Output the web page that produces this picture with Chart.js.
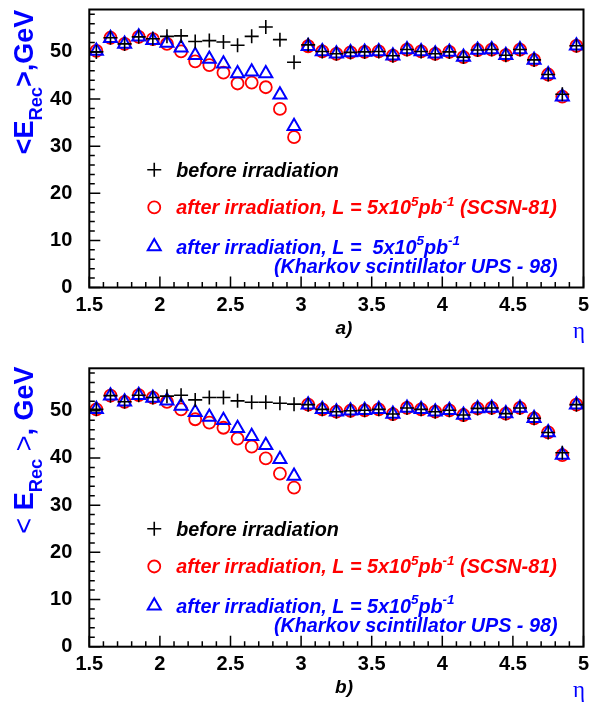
<!DOCTYPE html>
<html lang="en">
<head>
<meta charset="UTF-8">
<title>Mean reconstructed energy vs eta</title>
<script src="https://cdn.jsdelivr.net/npm/chart.js@4.4.0/dist/chart.umd.min.js"></script>
<style>
  body { margin: 0; background: #fff; }
  canvas { position: absolute; left: 0; }
  #chartA { top: 0; }
  #chartB { top: 350px; }
</style>
</head>
<body>
<canvas id="chartA" width="593" height="350"></canvas>
<canvas id="chartB" width="593" height="357"></canvas>
<script>
// eta bin centres
const eta = [1.55, 1.65, 1.75, 1.85, 1.95, 2.05, 2.15, 2.25, 2.35, 2.45, 2.55, 2.65,
             2.75, 2.85, 2.95, 3.05, 3.15, 3.25, 3.35, 3.45, 3.55, 3.65, 3.75, 3.85,
             3.95, 4.05, 4.15, 4.25, 4.35, 4.45, 4.55, 4.65, 4.75, 4.85, 4.95];

// panel a)
const beforeA = [50.0, 53.0, 51.7, 53.2, 52.8, 53.3, 53.4, 52.2, 52.4, 52.1, 51.4, 53.3,
                 55.3, 52.6, 47.8, 51.5, 50.1, 49.6, 49.9, 50.0, 50.1, 49.2, 50.5, 50.1,
                 49.6, 50.0, 48.9, 50.4, 50.5, 49.3, 50.5, 48.3, 45.2, 41.0, 51.3];
const scsnA   = [50.2, 53.0, 51.7, 53.2, 52.7, 51.7, 50.1, 48.0, 47.2, 45.6, 43.3, 43.5,
                 42.5, 37.9, 31.9, 51.2, 50.1, 49.6, 49.9, 50.0, 50.1, 49.2, 50.5, 50.1,
                 49.6, 50.0, 48.9, 50.4, 50.5, 49.3, 50.5, 48.3, 45.2, 40.5, 51.3];
const upsA    = [50.2, 52.9, 51.7, 53.2, 52.5, 51.9, 50.9, 49.3, 48.5, 47.5, 45.4, 45.8,
                 45.4, 40.9, 34.2, 51.2, 50.1, 49.6, 49.9, 50.0, 50.1, 49.2, 50.5, 50.1,
                 49.6, 50.0, 48.9, 50.4, 50.5, 49.3, 50.5, 48.3, 45.2, 40.5, 51.3];

// panel b)
const beforeB = [50.3, 53.2, 51.9, 53.3, 52.8, 53.1, 53.3, 52.3, 52.8, 52.8, 52.1, 51.8,
                 51.8, 51.6, 51.4, 51.3, 50.3, 49.8, 50.0, 50.1, 50.3, 49.3, 50.6, 50.3,
                 49.8, 50.1, 49.1, 50.5, 50.6, 49.4, 50.6, 48.4, 45.4, 41.1, 51.3];
const scsnB   = [50.3, 53.2, 51.9, 53.3, 52.8, 51.9, 50.3, 48.2, 47.5, 46.4, 44.1, 42.4,
                 39.9, 36.7, 33.7, 51.3, 50.3, 49.8, 50.0, 50.1, 50.3, 49.3, 50.6, 50.3,
                 49.8, 50.1, 49.1, 50.5, 50.6, 49.4, 50.6, 48.4, 45.4, 40.6, 51.3];
const upsB    = [50.3, 53.2, 51.9, 53.3, 52.7, 52.1, 51.0, 49.7, 48.7, 48.0, 46.3, 44.6,
                 42.7, 39.7, 36.2, 51.3, 50.3, 49.8, 50.0, 50.1, 50.3, 49.3, 50.6, 50.3,
                 49.8, 50.1, 49.1, 50.5, 50.6, 49.4, 50.6, 48.4, 45.4, 40.6, 51.3];

const xTicks = [1.5, 2, 2.5, 3, 3.5, 4, 4.5, 5];
const yTicks = [0, 10, 20, 30, 40, 50];
const xMinorStep = 0.1;
const yMinorStep = 2;

const FONT = '"Liberation Sans", Arial, Helvetica, sans-serif';
const RED = '#ff0000';
const BLUE = '#0000ff';
const LEGEND_SIZE = 19.8;

const styles = {
  before: { pointStyle: 'cross', radius: 7, borderColor: '#000', borderWidth: 1.6 },
  scsn:   { pointStyle: 'circle', radius: 6, borderColor: RED, borderWidth: 1.8 },
  ups:    { pointStyle: 'triangle', radius: 7.5, borderColor: BLUE, borderWidth: 2 }
};

function fontFor(kind, size, style) {
  const s = (kind === 'sup' || kind === 'sub') ? size * 0.68 : size;
  const w = kind === 'thin' ? 'normal' : 'bold';
  return `${style} ${w} ${s}px ${FONT}`;
}

function richWidth(ctx, parts, size, style) {
  let w = 0;
  for (const [t, k] of parts) {
    ctx.font = fontFor(k, size, style);
    w += ctx.measureText(t).width;
  }
  return w;
}

function drawRich(ctx, parts, x, y, size, style, color) {
  ctx.fillStyle = color;
  ctx.textAlign = 'left';
  ctx.textBaseline = 'alphabetic';
  for (const [t, k] of parts) {
    ctx.font = fontFor(k, size, style);
    const dy = k === 'sup' ? -size * 0.42 : k === 'sub' ? size * 0.35 : 0;
    ctx.fillText(t, x, y + dy);
    x += ctx.measureText(t).width;
  }
}

// frame box with inward ticks, ROOT style
const framePlugin = {
  id: 'frame',
  afterDatasetsDraw(chart) {
    const { ctx, chartArea: a, scales: { x, y } } = chart;
    ctx.save();
    ctx.strokeStyle = '#000';
    ctx.lineWidth = 1.5;
    ctx.beginPath();
    const nx = Math.round((x.max - x.min) / xMinorStep);
    for (let i = 0; i <= nx; i++) {
      const px = x.getPixelForValue(x.min + i * xMinorStep);
      const len = i % 5 === 0 ? 11 : 5.5;
      ctx.moveTo(px, a.bottom);
      ctx.lineTo(px, a.bottom - len);
    }
    for (let v = 0; v <= y.max; v += yMinorStep) {
      const py = y.getPixelForValue(v);
      const len = v % 10 === 0 ? 11 : 5.5;
      ctx.moveTo(a.left, py);
      ctx.lineTo(a.left + len, py);
    }
    ctx.stroke();
    ctx.lineWidth = 2;
    ctx.strokeRect(a.left, a.top, a.right - a.left, a.bottom - a.top);
    ctx.restore();
  }
};

// axis titles, panel label and the legend block
const labelsPlugin = {
  id: 'labels',
  afterDraw(chart, args, o) {
    const { ctx, chartArea: a, scales: { x, y } } = chart;
    ctx.save();

    // rotated y title
    const tw = richWidth(ctx, o.title, 27, '');
    ctx.translate(33, o.titleCenter);
    ctx.rotate(-Math.PI / 2);
    drawRich(ctx, o.title, -tw / 2, 0, 27, '', BLUE);
    ctx.setTransform(1, 0, 0, 1, 0, 0);

    // eta label
    ctx.font = `23px "Liberation Serif", "DejaVu Serif", serif`;
    ctx.fillStyle = BLUE;
    ctx.textAlign = 'center';
    ctx.textBaseline = 'alphabetic';
    ctx.fillText('\u03b7', 579, a.bottom + 50);

    // panel label
    ctx.font = `italic bold 19px ${FONT}`;
    ctx.fillStyle = '#000';
    ctx.fillText(o.panel, 344, a.bottom + 46);

    // legend
    const mx = x.getPixelForValue(1.96);
    const tx = mx + 22;
    const rows = [
      { y: 25, style: styles.before, color: '#000', parts: [['before irradiation', 'n']] },
      { y: 17, style: styles.scsn, color: RED, parts: o.redLine },
      { y: 8.7, style: styles.ups, color: BLUE, parts: o.blueLine }
    ];
    let lastBase = 0;
    for (const r of rows) {
      const py = y.getPixelForValue(r.y);
      ctx.strokeStyle = r.style.borderColor;
      ctx.fillStyle = 'rgba(0,0,0,0)';
      ctx.lineWidth = r.style.borderWidth;
      Chart.helpers.drawPoint(ctx, {
        pointStyle: r.style.pointStyle,
        radius: r.style.radius,
        borderWidth: r.style.borderWidth
      }, mx, py);
      drawRich(ctx, r.parts, tx, py + 7, LEGEND_SIZE, 'italic', r.color);
      lastBase = py + 7;
    }
    const second = [['(Kharkov scintillator UPS - 98)', 'n']];
    const sw = richWidth(ctx, second, LEGEND_SIZE, 'italic');
    drawRich(ctx, second, a.right - 26 - sw, lastBase + 19, LEGEND_SIZE, 'italic', BLUE);
    ctx.restore();
  }
};

function makePanel(id, before, scsn, ups, o) {
  const pts = vals => eta.map((e, i) => ({ x: e, y: vals[i] }));
  const ds = (label, vals, s) => ({
    label,
    data: pts(vals),
    showLine: false,
    pointStyle: s.pointStyle,
    pointRadius: s.radius,
    pointBorderColor: s.borderColor,
    pointBackgroundColor: 'rgba(0,0,0,0)',
    pointBorderWidth: s.borderWidth
  });
  return new Chart(document.getElementById(id), {
    type: 'scatter',
    data: {
      // first dataset is drawn on top
      datasets: [
        ds('before irradiation', before, styles.before),
        ds('UPS-98', ups, styles.ups),
        ds('SCSN-81', scsn, styles.scsn)
      ]
    },
    options: {
      responsive: false,
      animation: false,
      devicePixelRatio: 1,
      layout: { padding: { left: 0, right: 4, top: o.padTop, bottom: 0 } },
      plugins: {
        legend: { display: false },
        tooltip: { enabled: false },
        labels: o
      },
      scales: {
        x: {
          type: 'linear',
          min: 1.5,
          max: 5,
          grid: { display: false, drawTicks: false },
          border: { display: false },
          afterBuildTicks: s => { s.ticks = xTicks.map(v => ({ value: v })); },
          afterFit: s => {
            s.height = o.xHeight;
            s.paddingLeft = 0; s.paddingRight = 0;
          },
          ticks: {
            padding: 6,
            color: '#000',
            maxRotation: 0,
            autoSkip: false,
            font: { family: FONT, size: 20, weight: 'bold' },
            callback: v => String(v)
          }
        },
        y: {
          type: 'linear',
          min: 0,
          max: 59,
          grid: { display: false, drawTicks: false },
          border: { display: false },
          afterBuildTicks: s => { s.ticks = yTicks.map(v => ({ value: v })); },
          afterFit: s => {
            s.width = 89.3;
            s.paddingTop = 0; s.paddingBottom = 0;
          },
          ticks: {
            padding: 17,
            color: '#000',
            font: { family: FONT, size: 20, weight: 'bold' }
          }
        }
      }
    },
    plugins: [framePlugin, labelsPlugin]
  });
}

const redLine = [['after irradiation, L = 5x10', 'n'], ['5', 'sup'], ['pb', 'n'], ['-1', 'sup'], [' (SCSN-81)', 'n']];

makePanel('chartA', beforeA, scsnA, upsA, {
  padTop: 7.3,
  xHeight: 350 - 287.5,
  titleCenter: 82,
  title: [['<', 'n'], ['E', 'n'], ['Rec', 'sub'], ['>,GeV', 'n']],
  panel: 'a)',
  redLine,
  blueLine: [['after irradiation, L =  5x10', 'n'], ['5', 'sup'], ['pb', 'n'], ['-1', 'sup']]
});

makePanel('chartB', beforeB, scsnB, upsB, {
  padTop: 18.3,
  xHeight: 357 - 296.7,
  titleCenter: 100,
  title: [['< ', 'thin'], ['E', 'n'], ['Rec', 'sub'], [' >', 'thin'], [', GeV', 'n']],
  panel: 'b)',
  redLine,
  blueLine: [['after irradiation, L = 5x10', 'n'], ['5', 'sup'], ['pb', 'n'], ['-1', 'sup']]
});
</script>
</body>
</html>
